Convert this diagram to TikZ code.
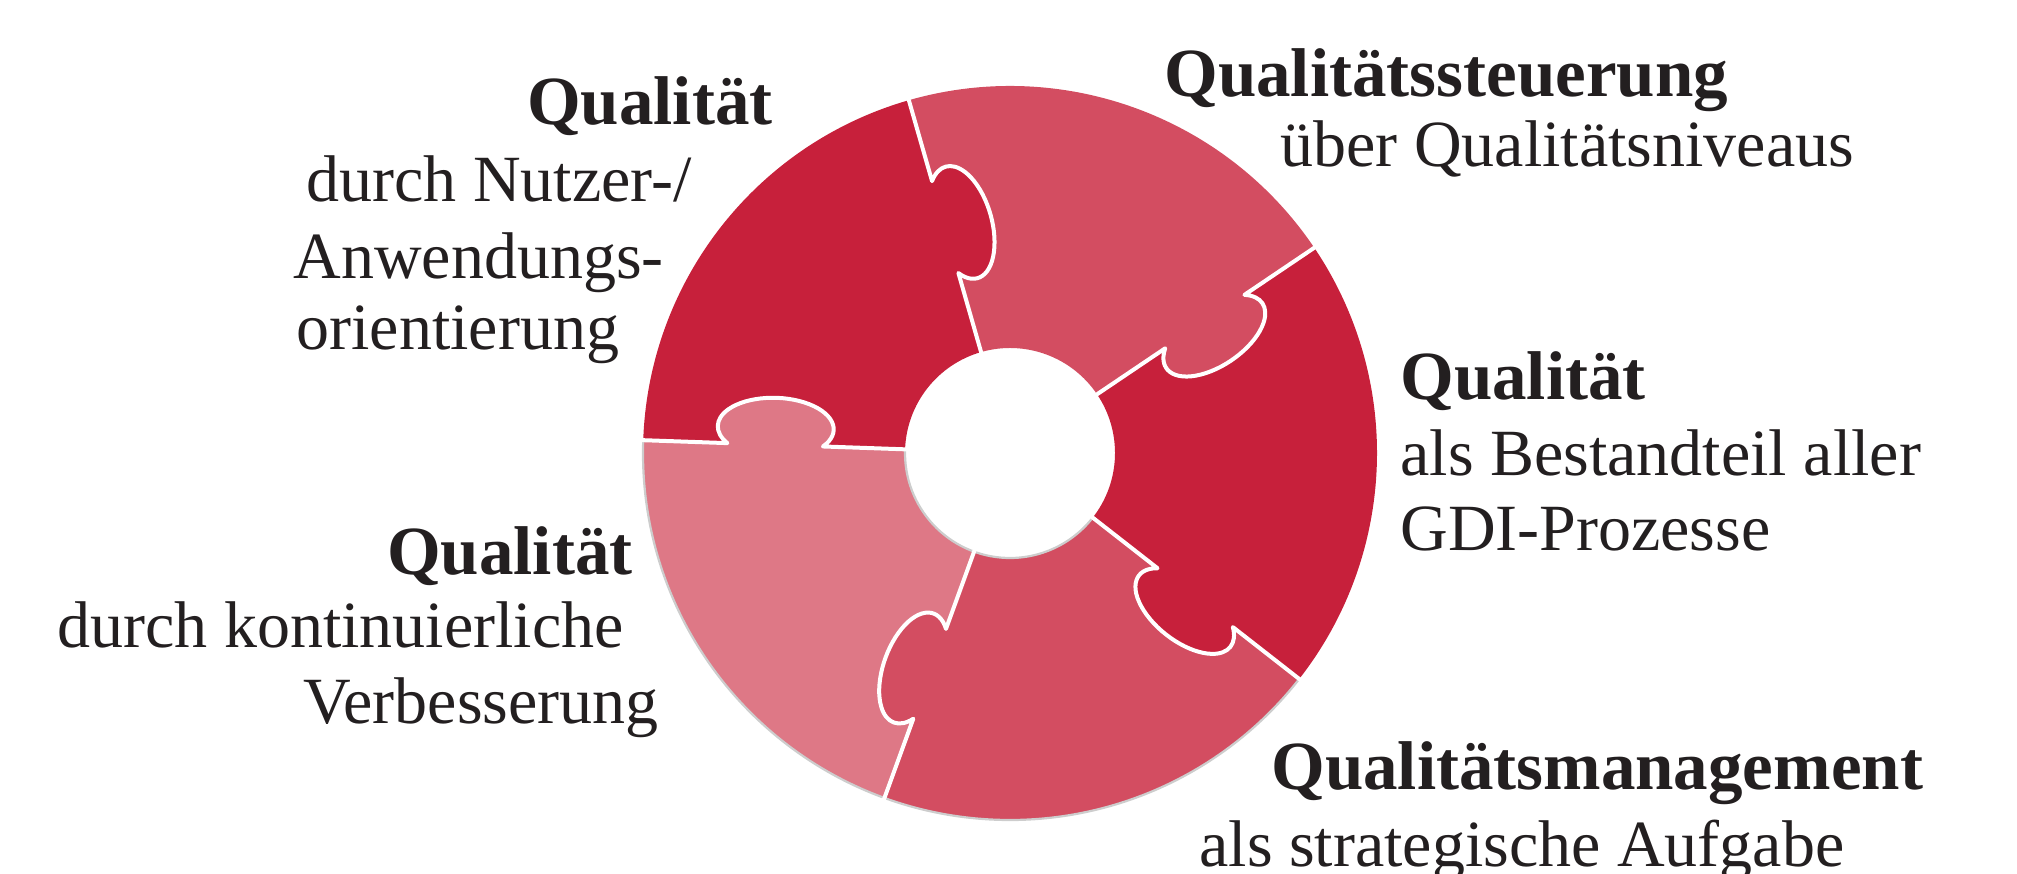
\documentclass[tikz,border=0pt]{standalone}
\usepackage{fontspec}
\setmainfont{Liberation Serif}
\definecolor{deepred}{HTML}{C7203B}
\definecolor{midred}{HTML}{D34D61}
\definecolor{palered}{HTML}{DE7886}
\definecolor{ink}{HTML}{231F20}
\definecolor{rim}{HTML}{CDCDCD}

\begin{document}
\begin{tikzpicture}[x=0.5pt,y=0.5pt,
  lbl/.style={inner sep=0pt, text=ink, font=\fontsize{33}{38}\selectfont},
  head/.style={inner sep=0pt, text=ink, font=\fontsize{34.5}{38}\selectfont\bfseries},
  seam/.style={draw=white, line width=2pt, line join=round},
  rimline/.style={draw=rim, line width=1.1pt}
]
\useasboundingbox (0,0) rectangle (2017,873);

% ring of five puzzle pieces around the centre
\begin{scope}[shift={(1010,420)}]
  \foreach \a/\b/\col in {34/106/midred, 106/178/deepred, 178/250/palered,
                          250/322/midred, 322/394/deepred}
    \fill[\col] (\a:367) arc[start angle=\a, end angle=\b, radius=367]
      -- (\b:105) arc[start angle=\b, end angle=\a, radius=105] -- cycle;

  % faint grey rim on the lower left
  \draw[rimline] (178:367) arc[start angle=178, end angle=322, radius=367];
  \draw[rimline] (178:105) arc[start angle=178, end angle=322, radius=105];

  % tabs: each piece reaches clockwise into its neighbour
  \foreach \ang/\col in {34/midred, 106/deepred, 178/palered, 250/midred, 322/deepred}
    \fill[\col, rotate=\ang] (235,-17) ellipse[x radius=58, y radius=30];

  % white cut lines with the tab outline
  \foreach \ang in {34,106,178,250,322}
    \draw[seam, rotate=\ang] (100,0) -- (187.2,0)
      arc[start angle=145.5, end angle=394.5, x radius=58, y radius=30]
      -- (372,0);
\end{scope}

% labels
\node[head, anchor=base east] (tlA) at (773,748) {Qualität};
\node[lbl, anchor=base west] (tlB) at (306,671) {durch Nutzer-/};
\node[lbl, anchor=base west] (tlC) at (293,594) {Anwendungs-};
\node[lbl, anchor=base west] (tlD) at (296,523) {orientierung};

\node[head, anchor=base west] (trA) at (1164,776) {Qualitätssteuerung};
\node[lbl, anchor=base west] (trB) at (1280,706) {über Qualitätsniveaus};

\node[head, anchor=base west] (rA) at (1400,473) {Qualität};
\node[lbl, anchor=base west] (rB) at (1400,397) {als Bestandteil aller};
\node[lbl, anchor=base west] (rC) at (1400,322) {GDI-Prozesse};

\node[head, anchor=base west] (brA) at (1271,84) {Qualitätsmanagement};
\node[lbl, anchor=base west] (brB) at (1199,7) {als strategische Aufgabe};

\node[head, anchor=base east] (blA) at (633,298) {Qualität};
\node[lbl, anchor=base west] (blB) at (57,226) {durch kontinuierliche};
\node[lbl, anchor=base east] (blC) at (659,150) {Verbesserung};
\end{tikzpicture}
\end{document}
